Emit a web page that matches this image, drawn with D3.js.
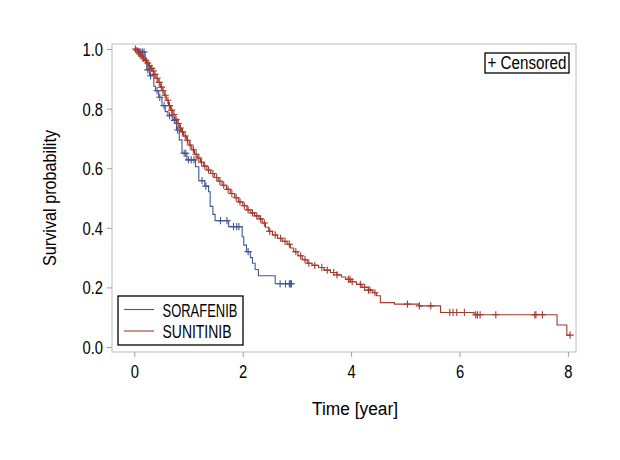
<!DOCTYPE html>
<html>
<head>
<meta charset="utf-8">
<script src="https://cdn.jsdelivr.net/npm/d3@7"></script>
<style>
  html, body { margin: 0; padding: 0; background: #ffffff; }
  svg { display: block; }
  text { font-family: "Liberation Sans", Arial, sans-serif; fill: #000; }
</style>
</head>
<body>
<svg id="chart" width="620" height="460"></svg>
<script>
// ---------------- data ----------------
const seriesNames = ["SORAFENIB", "SUNITINIB"];
const seriesColors = ["#445694", "#A23A2E"];

// SORAFENIB: event times (years) and survival after each event
const soraTime = [0.10, 0.20, 0.23, 0.28, 0.36, 0.39, 0.45, 0.51, 0.57, 0.62, 0.70, 0.78, 0.83, 0.88, 0.97,
  1.13, 1.19, 1.30, 1.37, 1.40, 1.45, 1.49, 1.74, 1.99, 2.02, 2.07, 2.14, 2.18, 2.23, 2.29, 2.60];
const soraSurv = [0.990, 0.966, 0.930, 0.910, 0.875, 0.860, 0.838, 0.810, 0.790, 0.776, 0.760, 0.728, 0.695, 0.650, 0.628,
  0.605, 0.558, 0.540, 0.521, 0.472, 0.445, 0.424, 0.404, 0.370, 0.342, 0.320, 0.300, 0.281, 0.260, 0.239, 0.212];
const soraEnd = 2.90;
const soraCensor = [0.12, 0.15, 0.18, 0.25, 0.30, 0.42, 0.47, 0.55, 0.65, 0.74, 0.80, 0.92, 0.95, 1.00, 1.05, 1.10,
  1.25, 1.32, 1.59, 1.71, 1.83, 1.89, 1.93, 2.10, 2.69, 2.79, 2.86, 2.88, 2.90];

// SUNITINIB
const suniTime = [0.03, 0.06, 0.09, 0.12, 0.15, 0.19, 0.22, 0.26, 0.30, 0.33, 0.36, 0.40, 0.44, 0.48, 0.51, 0.55,
  0.59, 0.63, 0.67, 0.71, 0.75, 0.79, 0.83, 0.87, 0.91, 0.96, 1.01, 1.06, 1.11, 1.16, 1.22, 1.28, 1.34, 1.41,
  1.48, 1.55, 1.62, 1.70, 1.77, 1.85, 1.92, 2.00, 2.08, 2.15, 2.22, 2.30, 2.36, 2.42, 2.48, 2.55, 2.64, 2.73,
  2.82, 2.88, 2.94, 3.02, 3.10, 3.19, 3.28, 3.40, 3.50, 3.62, 3.74, 3.82, 3.90, 3.99, 4.10, 4.20, 4.32, 4.40,
  4.47, 4.54, 4.80, 5.26, 5.65, 6.27, 7.80, 7.98];
const suniSurv = [0.995, 0.989, 0.983, 0.976, 0.969, 0.961, 0.953, 0.944, 0.935, 0.926, 0.915, 0.902, 0.888, 0.872, 0.860, 0.845,
  0.828, 0.810, 0.795, 0.780, 0.764, 0.750, 0.735, 0.722, 0.708, 0.694, 0.678, 0.662, 0.647, 0.634, 0.620, 0.607, 0.594, 0.582,
  0.569, 0.556, 0.543, 0.529, 0.515, 0.501, 0.487, 0.474, 0.460, 0.450, 0.440, 0.430, 0.416, 0.402, 0.388, 0.376, 0.365, 0.355,
  0.345, 0.332, 0.320, 0.306, 0.293, 0.281, 0.274, 0.267, 0.258, 0.250, 0.242, 0.235, 0.227, 0.219, 0.210, 0.200, 0.191, 0.182,
  0.172, 0.149, 0.144, 0.138, 0.116, 0.108, 0.074, 0.040];
const suniEnd = 8.04;
const suniCensor = [0.02, 0.05, 0.08, 0.10, 0.14, 0.17, 0.21, 0.25, 0.28, 0.32, 0.35, 0.38, 0.42, 0.46, 0.50, 0.53, 0.57,
  0.62, 0.65, 0.69, 0.73, 0.77, 0.81, 0.85, 0.89, 0.94, 0.98, 1.03, 1.09, 1.14, 1.19, 1.24, 1.30, 1.37, 1.45, 1.52,
  1.58, 1.65, 1.73, 1.80, 1.88, 1.95, 2.03, 2.10, 2.18, 2.26, 2.33, 2.40, 2.50, 2.60, 2.70, 2.78, 2.86, 2.98, 3.07,
  3.15, 3.22, 3.33, 3.46, 3.56, 3.68, 3.74, 3.95, 3.98, 4.02, 4.17, 4.25, 4.32, 4.35, 4.44,
  5.04, 5.26, 5.47, 5.82, 5.88, 5.95, 6.09, 6.30, 6.33, 6.38, 6.67, 7.39, 7.41, 7.53, 8.04];

const xTicks = [0, 2, 4, 6, 8];
const yTicks = [0.0, 0.2, 0.4, 0.6, 0.8, 1.0];
const xTitle = "Time [year]";
const yTitle = "Survival probability";
const censorLabel = "+ Censored";

// ---------------- layout ----------------
const frame = { left: 112, right: 576, top: 44, bottom: 352 };
const svg = d3.select("#chart");
const narrow = 0.82;

const x = d3.scaleLinear().domain([0, 8]).range([134.3, 567.9]);
const y = d3.scaleLinear().domain([0, 1]).range([347, 49]);

// frame
svg.append("rect")
  .attr("x", frame.left).attr("y", frame.top)
  .attr("width", frame.right - frame.left).attr("height", frame.bottom - frame.top)
  .attr("fill", "none").attr("stroke", "#c8c8c8").attr("stroke-width", 1.2);

// axes
const yAxis = svg.append("g")
  .attr("transform", `translate(${frame.left},0)`)
  .call(d3.axisLeft(y).tickValues(yTicks).tickFormat(d3.format(".1f")).tickSize(5).tickPadding(4).tickSizeOuter(0));
const xAxis = svg.append("g")
  .attr("transform", `translate(0,${frame.bottom})`)
  .call(d3.axisBottom(x).tickValues(xTicks).tickFormat(d3.format("d")).tickSize(5).tickPadding(5).tickSizeOuter(0));
[xAxis, yAxis].forEach(g => {
  g.select(".domain").remove();
  g.selectAll(".tick line").attr("stroke", "#a0a0a0");
  g.selectAll(".tick text").attr("font-size", 18).attr("fill", "#000")
    .style("font-family", '"Liberation Sans", Arial, sans-serif')
    .each(function () {
      const w = this.getComputedTextLength();
      d3.select(this).attr("textLength", w * narrow).attr("lengthAdjust", "spacingAndGlyphs");
    });
});
yAxis.selectAll(".tick text").attr("dy", "0.36em");
xAxis.selectAll(".tick text").attr("dy", "0.9em");

// axis titles
svg.append("text")
  .attr("x", 355).attr("y", 415)
  .attr("text-anchor", "middle").attr("font-size", 18)
  .attr("textLength", 86).attr("lengthAdjust", "spacingAndGlyphs")
  .text(xTitle);
svg.append("text")
  .attr("transform", `translate(56,${(frame.top + frame.bottom) / 2}) rotate(-90)`)
  .attr("text-anchor", "middle").attr("font-size", 18)
  .attr("textLength", 136).attr("lengthAdjust", "spacingAndGlyphs")
  .text(yTitle);

// curves
function stepPoints(times, surv, end) {
  const pts = [[0, 1]];
  times.forEach((t, i) => pts.push([t, surv[i]]));
  pts.push([end, surv[surv.length - 1]]);
  return pts;
}
function survAt(times, surv, t) {
  const i = d3.bisectRight(times, t);
  return i === 0 ? 1 : surv[i - 1];
}
const line = d3.line().x(d => x(d[0])).y(d => y(d[1])).curve(d3.curveStepAfter);

const series = [
  { times: soraTime, surv: soraSurv, end: soraEnd, censor: soraCensor, color: seriesColors[0] },
  { times: suniTime, surv: suniSurv, end: suniEnd, censor: suniCensor, color: seriesColors[1] }
];

series.forEach(s => {
  svg.append("path")
    .attr("d", line(stepPoints(s.times, s.surv, s.end)))
    .attr("fill", "none").attr("stroke", s.color).attr("stroke-width", 1.1);
  const h = 3.6;
  svg.append("g").selectAll("path").data(s.censor).join("path")
    .attr("d", t => {
      const cx = x(t), cy = y(survAt(s.times, s.surv, t));
      return `M${cx - h},${cy}H${cx + h}M${cx},${cy - h}V${cy + h}`;
    })
    .attr("fill", "none").attr("stroke", s.color).attr("stroke-width", 1.1);
});

// legend (series)
const leg = svg.append("g");
leg.append("rect").attr("x", 118).attr("y", 296).attr("width", 125).attr("height", 49)
  .attr("fill", "#fff").attr("stroke", "#000").attr("stroke-width", 1.3);
seriesNames.forEach((name, i) => {
  const ly = 309.5 + i * 21.5;
  leg.append("line").attr("x1", 124).attr("x2", 154).attr("y1", ly).attr("y2", ly)
    .attr("stroke", seriesColors[i]).attr("stroke-width", 1.1);
  leg.append("text").attr("x", 162.5).attr("y", ly + 7).attr("font-size", 19)
    .attr("textLength", i === 0 ? 75 : 69).attr("lengthAdjust", "spacingAndGlyphs")
    .text(name);
});

// censored legend
svg.append("rect").attr("x", 485).attr("y", 53).attr("width", 84).attr("height", 20)
  .attr("fill", "#fff").attr("stroke", "#000").attr("stroke-width", 1.3);
svg.append("text").attr("x", 487.5).attr("y", 69).attr("font-size", 18)
  .attr("textLength", 79).attr("lengthAdjust", "spacingAndGlyphs")
  .text(censorLabel);
</script>
</body>
</html>
